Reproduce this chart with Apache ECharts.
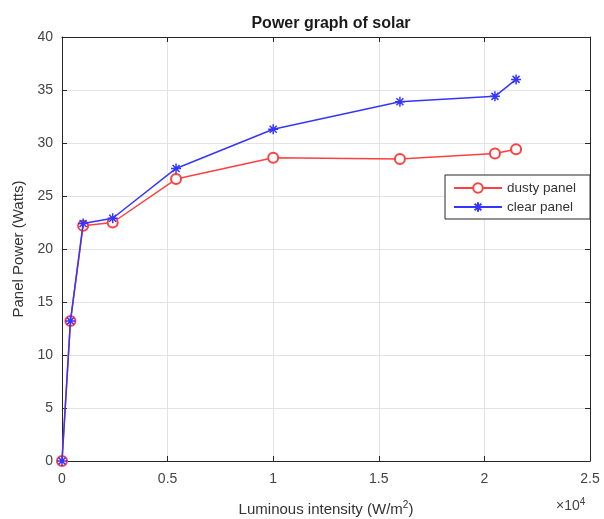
<!DOCTYPE html>
<html>
<head>
<meta charset="utf-8">
<script src="https://cdn.jsdelivr.net/npm/echarts@6/dist/echarts.min.js"></script>
<style>
  html, body { margin: 0; padding: 0; background: #fff; }
  #chart { width: 604px; height: 519px; }
</style>
</head>
<body>
<div id="chart"></div>
<script>
"use strict";

// luminous intensity (W/m^2) and panel power (W)
var lux = [0, 400, 1000, 2400, 5400, 10000, 16000, 20500, 21500];
var dusty = [0, 13.2, 22.2, 22.5, 26.6, 28.6, 28.5, 29.0, 29.4];
var clear = [0, 13.2, 22.4, 22.9, 27.6, 31.3, 33.9, 34.4, 36.0];

var font = "Liberation Sans, Arial, Helvetica, sans-serif";
var axisColor = "#262626";
var labelColor = "#444";

// asterisk marker, drawn as strokes
var star = "path://M0 5 L10 5 M5 0 L5 10 M1.5 1.5 L8.5 8.5 M8.5 1.5 L1.5 8.5";

function pairs(xs, ys) {
    return xs.map((x, i) => [x, ys[i]]);
}

var chart = echarts.init(document.querySelector("#chart"));

var baseX = {
    type: "value",
    min: 0,
    max: 25000,
    interval: 5000,
    axisLine: { show: true, onZero: false, lineStyle: { color: axisColor, width: 1 } },
    axisTick: { show: true, inside: true, length: 5, lineStyle: { color: axisColor } },
    splitLine: { show: false }
};
var baseY = {
    type: "value",
    min: 0,
    max: 40,
    interval: 5,
    axisLine: { show: true, onZero: false, lineStyle: { color: axisColor, width: 1 } },
    axisTick: { show: true, inside: true, length: 5, lineStyle: { color: axisColor } },
    splitLine: { show: false }
};

var option = {
    backgroundColor: "#fff",
    animation: false,
    title: {
        text: "Power graph of solar",
        left: 326,
        textAlign: "center",
        top: 11,
        textStyle: { fontFamily: font, fontSize: 16, fontWeight: "bold", color: "#1a1a1a" }
    },
    grid: { left: 62, right: 14, top: 37, bottom: 58, outerBoundsMode: "none", containLabel: false },
    legend: {
        left: 445,
        top: 175,
        orient: "vertical",
        backgroundColor: "#fff",
        borderColor: axisColor,
        borderWidth: 1,
        padding: [6, 14, 5, 8],
        itemWidth: 48,
        itemHeight: 12,
        itemGap: 5,
        textStyle: { fontFamily: font, fontSize: 13.5, color: "#333" },
        data: ["dusty panel", "clear panel"]
    },
    xAxis: [
        Object.assign({}, baseX, {
            position: "bottom",
            splitLine: { show: true, lineStyle: { color: "#e3e3e3", width: 1 } },
            axisLabel: {
                fontFamily: font,
                fontSize: 14,
                color: labelColor,
                margin: 11,
                formatter: v => String(v / 10000)
            },
            name: "Luminous intensity (W/m{sup|2})",
            nameLocation: "middle",
            nameGap: 39,
            nameTextStyle: {
                fontFamily: font,
                fontSize: 15,
                color: "#333",
                rich: { sup: { fontFamily: font, fontSize: 10, color: "#333", padding: [0, 0, 9, 0] } }
            }
        }),
        Object.assign({}, baseX, { position: "top", axisLabel: { show: false } })
    ],
    yAxis: [
        Object.assign({}, baseY, {
            position: "left",
            splitLine: { show: true, lineStyle: { color: "#e3e3e3", width: 1 } },
            axisLabel: { fontFamily: font, fontSize: 14, color: labelColor, margin: 9 },
            name: "Panel Power (Watts)",
            nameLocation: "middle",
            nameGap: 30,
            nameTextStyle: { fontFamily: font, fontSize: 15, color: "#333" }
        }),
        Object.assign({}, baseY, { position: "right", axisLabel: { show: false } })
    ],
    graphic: [
        {
            type: "text",
            left: 556,
            top: 497,
            style: {
                text: "×10{sup|4}",
                fontFamily: font,
                fontSize: 14,
                fill: "#444",
                rich: { sup: { fontFamily: font, fontSize: 10, fill: "#444", padding: [0, 0, 8, 0] } }
            }
        }
    ],
    series: [
        {
            name: "dusty panel",
            type: "line",
            data: pairs(lux, dusty),
            symbol: "emptyCircle",
            symbolSize: 10,
            lineStyle: { color: "#ff4040", width: 1.5 },
            itemStyle: { color: "#ff4040", borderColor: "#ff4040", borderWidth: 1.5 },
            z: 2
        },
        {
            name: "clear panel",
            type: "line",
            data: pairs(lux, clear),
            symbol: star,
            symbolSize: 10,
            lineStyle: { color: "#3535ff", width: 1.5 },
            itemStyle: { color: "#3535ff", borderColor: "#3535ff", borderWidth: 1.5 },
            z: 3
        }
    ]
};

chart.setOption(option);
</script>
</body>
</html>
